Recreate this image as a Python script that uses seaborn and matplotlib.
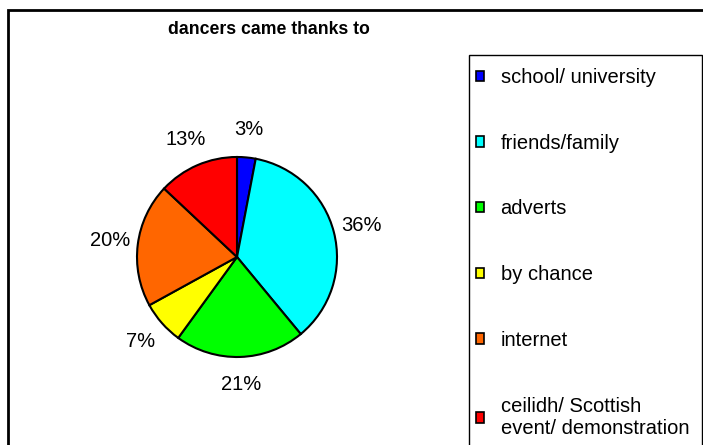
import numpy as np
import seaborn as sns
import matplotlib.pyplot as plt
from matplotlib.patches import Rectangle, Patch

categories = ['school/ university', 'friends/family', 'adverts', 'by chance',
              'internet', 'ceilidh/ Scottish\nevent/ demonstration']
shares = [3, 36, 21, 7, 20, 13]
colours = ['#0000FF', '#00FFFF', '#00FF00', '#FFFF00', '#FF6600', '#FF0000']

sns.set_style("white")
plt.rcParams['font.family'] = ['Liberation Sans', 'DejaVu Sans']
plt.rcParams['text.color'] = 'black'

W, H = 703, 445
fig = plt.figure(figsize=(W / 100, H / 100), dpi=100)

# pie: centre (237, 257) px, radius 100 px
cx, cy, r = 237, 257, 100
ax = fig.add_axes([(cx - r) / W, (H - cy - r) / H, 2 * r / W, 2 * r / H])
ax.pie(shares, colors=colours, startangle=90, counterclock=False,
       labels=[f'{v}%' for v in shares], labeldistance=1.28,
       wedgeprops=dict(edgecolor='black', linewidth=1.5),
       textprops=dict(fontsize=14.5, color='black', ha='center', va='center'))
ax.set_xlim(-1, 1)
ax.set_ylim(-1, 1)
ax.set_aspect('equal')
ax.axis('off')

fig.text(269 / W, 1 - 30 / H, 'dancers came thanks to', ha='center', va='center',
         fontsize=12.7, fontweight='bold', color='black')

# outer chart frame and legend box (run off the bottom/right edge)
fig.patches.append(Rectangle((8 / W, -0.1), 2, (H - 10) / H + 0.1, fill=False,
                             edgecolor='black', linewidth=2, transform=fig.transFigure))
fig.patches.append(Rectangle((469 / W, -0.1), (702 - 469) / W, (H - 55) / H + 0.1,
                             fill=False, edgecolor='black', linewidth=1,
                             transform=fig.transFigure))

handles = [Patch(facecolor=c, edgecolor='black', linewidth=1.2) for c in colours]
leg = fig.legend(handles, categories, loc='upper left',
                 bbox_to_anchor=(476 / W, 1 - 68 / H), frameon=False,
                 fontsize=14.5, labelspacing=2.32, handlelength=0.42,
                 handleheight=0.42, handletextpad=0.8, borderpad=0,
                 borderaxespad=0)
for t in leg.get_texts():
    t.set_color('black')

fig.savefig('out.png', dpi=100)
